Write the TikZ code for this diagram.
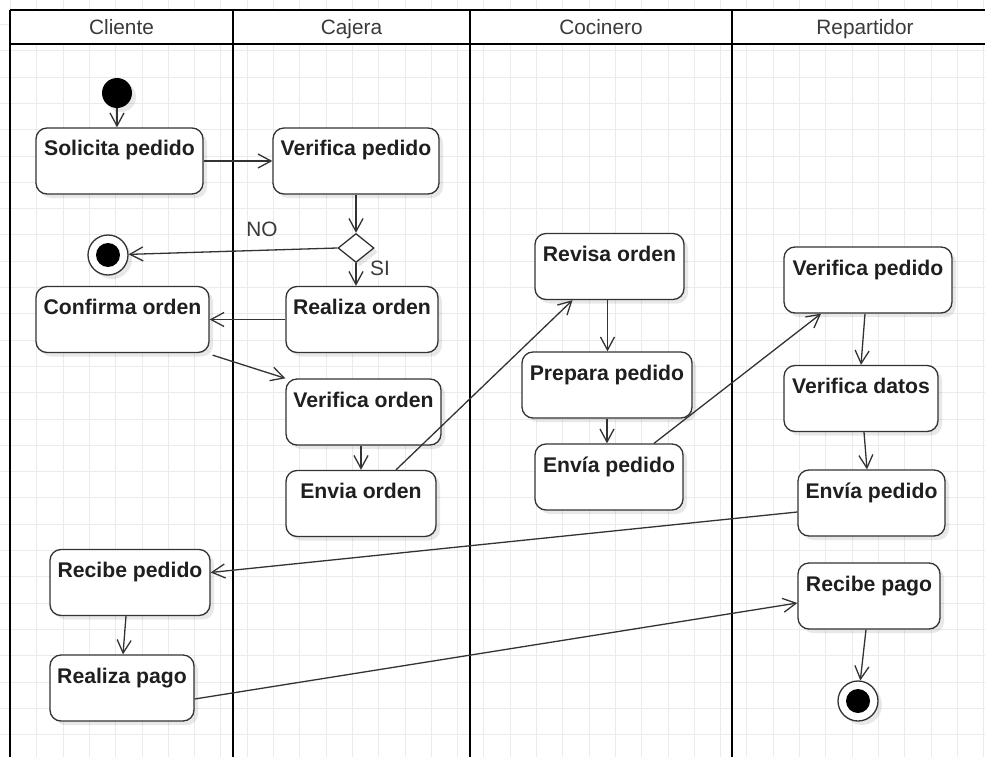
\documentclass[tikz,border=0pt]{standalone}
\usepackage{fontspec}
\setmainfont{Liberation Sans}
\usetikzlibrary{arrows.meta,shapes.geometric,shadows,calc}
\definecolor{gridc}{HTML}{EBEBEB}
\definecolor{edgec}{HTML}{333333}
\definecolor{hdrtext}{HTML}{3A3A3A}
\tikzset{
  shadowed/.style={drop shadow={shadow xshift=4pt,shadow yshift=-4pt,fill=black,opacity=0.09}},
  act/.style={draw=edgec,line width=1.3pt,fill=white,rounded corners=11pt,shadowed,
    font=\fontsize{21.2}{24}\selectfont\bfseries,text=black!88,
    text height=15pt,text depth=25pt,inner ysep=13pt,inner xsep=2pt,anchor=center},
  flow/.style={draw=edgec,line width=1.3pt,-{Straight Barb[length=13pt,width=14pt]}},
  lane/.style={line width=2.6pt,black},
  hdr/.style={font=\fontsize{20.8}{24}\selectfont,text=hdrtext,anchor=base,inner sep=0pt},
  guard/.style={font=\fontsize{20.8}{24}\selectfont,text=hdrtext},
  startnode/.style={circle,fill=black,minimum size=30pt,inner sep=0pt,shadowed},
  endnode/.style={circle,draw=edgec,line width=1.3pt,fill=white,minimum size=40pt,inner sep=0pt,shadowed,
    path picture={\fill[black] (path picture bounding box.center) circle (12pt);}},
  decision/.style={diamond,draw=edgec,line width=1.3pt,fill=white,minimum width=36pt,minimum height=29pt,inner sep=0pt,shadowed}
}
\begin{document}
\begin{tikzpicture}[x=1pt,y=-1pt]
\useasboundingbox (0,0) rectangle (985,757);
\fill[white] (0,0) rectangle (985,757);
% grid
\foreach \i in {0,...,37} {\draw[gridc,line width=0.8pt] ({10.4+26.3*\i},0) -- ({10.4+26.3*\i},757);}
\foreach \j in {0,...,29} {\draw[gridc,line width=0.8pt] (0,{-1.9+26.3*\j}) -- (985,{-1.9+26.3*\j});}
% pool header
\fill[white] (10,10) rectangle (985,44);
\draw[lane] (10,10) -- (985,10);
\draw[lane] (10,44) -- (985,44);
\draw[lane] (10,10) -- (10,757);
\draw[lane] (233,10) -- (233,757);
\draw[lane] (470,10) -- (470,757);
\draw[lane] (732,10) -- (732,757);
\node[hdr] (hcli) at (121.5,34.5) {Cliente};
\node[hdr] (hcaj) at (351.5,34.5) {Cajera};
\node[hdr] (hcoc) at (601,34.5) {Cocinero};
\node[hdr] (hrep) at (865,34.5) {Repartidor};
% nodes
\node[startnode] (start) at (117,93) {};
\node[act,minimum width=167pt] (sol) at (119.5,161) {Solicita pedido};
\node[act,minimum width=166pt] (verp) at (356,161) {Verifica pedido};
\node[decision] (dia) at (356,248) {};
\node[endnode] (fin1) at (108,255) {};
\node[act,minimum width=152pt] (real) at (362,319.5) {Realiza orden};
\node[act,minimum width=173pt] (conf) at (122.5,319.5) {Confirma orden};
\node[act,minimum width=155pt] (vero) at (363.5,412) {Verifica orden};
\node[act,minimum width=150pt] (env) at (361,503.5) {Envia orden};
\node[act,minimum width=149pt] (rev) at (609.5,266.5) {Revisa orden};
\node[act,minimum width=170pt] (prep) at (607,385) {Prepara pedido};
\node[act,minimum width=148pt] (envc) at (609,477) {Envía pedido};
\node[act,minimum width=168pt] (verpr) at (868,280) {Verifica pedido};
\node[act,minimum width=154pt] (vdat) at (861,398.5) {Verifica datos};
\node[act,minimum width=147pt] (envr) at (871.5,503) {Envía pedido};
\node[act,minimum width=160pt] (recp) at (130,582.5) {Recibe pedido};
\node[act,minimum width=144pt] (rpago) at (122,688) {Realiza pago};
\node[act,minimum width=142pt] (recpago) at (869,596) {Recibe pago};
\node[endnode] (fin2) at (858,701) {};
% labels
\node[guard] (gno) at (262,229) {NO};
\node[guard] (gsi) at (380,268) {SI};
% flows
\draw[flow] (start.south) -- (start.south |- sol.north);
\draw[flow] (sol.east) -- (verp.west);
\draw[flow] (verp.south) -- (dia.north);
\draw[flow] (dia.west) -- (fin1);
\draw[flow] (dia.south) -- (dia.south |- real.north);
\draw[flow] (real.west) -- (conf.east);
\draw[flow] ([xshift=3pt,yshift=-2pt]conf.south east) -- (vero.north west);
\draw[flow] ([xshift=-2.5pt]vero.south) -- ([xshift=-2.5pt]vero.south |- env.north);
\draw[flow] ([xshift=35pt]env.north) -- ([xshift=-37pt]rev.south);
\draw[flow] ([xshift=-2pt]rev.south) -- ([xshift=-2pt]rev.south |- prep.north);
\draw[flow] (prep.south) -- (prep.south |- envc.north);
\draw[flow] ([xshift=45pt]envc.north) -- ([xshift=-47pt]verpr.south);
\draw[flow] ([xshift=-3pt]verpr.south) -- (vdat.north);
\draw[flow] ([xshift=3pt]vdat.south) -- ([xshift=-4.5pt]envr.north);
\draw[flow] ([yshift=-9pt]envr.west) -- ([yshift=10pt]recp.east);
\draw[flow] ([xshift=-4pt]recp.south) -- ([xshift=1pt]rpago.north);
\draw[flow] ([yshift=-11pt]rpago.east) -- ([yshift=-7pt]recpago.west);
\draw[flow] ([xshift=-3pt]recpago.south) -- (fin2);
\end{tikzpicture}
\end{document}
